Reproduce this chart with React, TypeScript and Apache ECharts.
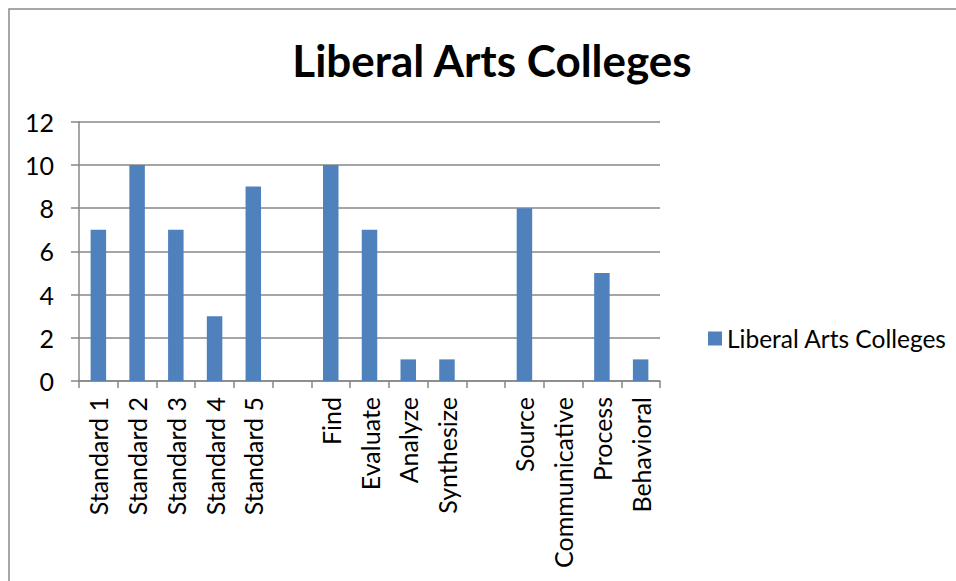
import React, { useEffect, useRef } from "react";
import * as echarts from "echarts";

const categories = [
  "Standard 1", "Standard 2", "Standard 3", "Standard 4", "Standard 5", "",
  "Find", "Evaluate", "Analyze", "Synthesize", " ",
  "Source", "Communicative", "Process", "Behavioral",
];
const values: (number | null)[] = [7, 10, 7, 3, 9, null, 10, 7, 1, 1, null, 8, null, 5, 1];
const seriesName = "Liberal Arts Colleges";
const title = "Liberal Arts Colleges";
const yTicks = { min: 0, max: 12, interval: 2 };

const FONT = "Lato";

export default function App() {
  const ref = useRef<HTMLDivElement>(null);
  useEffect(() => {
    if (!ref.current) return;
    const chart = echarts.init(ref.current, null, { renderer: "svg" });
    chart.setOption({
      animation: false,
      backgroundColor: "#ffffff",
      title: {
        text: title,
        left: 487,
        textAlign: "center",
        top: 33,
        textStyle: { fontFamily: FONT, fontSize: 44, fontWeight: "bold", color: "#000" },
      },
      legend: {
        data: [seriesName],
        left: 703,
        top: 321,
        icon: "rect",
        itemWidth: 14,
        itemHeight: 14,
        itemGap: 8,
        textStyle: { fontFamily: FONT, fontSize: 24.5, color: "#000" },
      },
      grid: { left: 79, right: 296, top: 121.7, bottom: 200, containLabel: false },
      xAxis: {
        type: "category",
        data: categories,
        axisLine: { lineStyle: { color: "#878787", width: 1.5 } },
        axisTick: { show: true, alignWithLabel: false, length: 7, lineStyle: { color: "#878787", width: 1.5 } },
        axisLabel: {
          rotate: 90,
          interval: 0,
          margin: 16,
          fontFamily: FONT,
          fontSize: 25,
          color: "#000",
        },
      },
      yAxis: {
        type: "value",
        min: yTicks.min,
        max: yTicks.max,
        interval: yTicks.interval,
        axisLine: { show: true, lineStyle: { color: "#878787", width: 1.5 } },
        axisTick: { show: true, length: 8, lineStyle: { color: "#878787", width: 1.5 } },
        splitLine: { show: true, lineStyle: { color: "#878787", width: 1.5 } },
        axisLabel: { margin: 25, fontFamily: FONT, fontSize: 25, color: "#000" },
      },
      series: [
        {
          name: seriesName,
          type: "bar",
          data: values,
          barWidth: "40%",
          itemStyle: { color: "#4F81BD" },
        },
      ],
      graphic: [
        {
          type: "rect",
          shape: { x: 9, y: 9, width: 1000, height: 1000 },
          style: { fill: "none", stroke: "#8a8a8a", lineWidth: 1.5 },
          silent: true,
        },
      ],
    });
    return () => chart.dispose();
  }, []);
  return (
    <div
      ref={ref}
      style={{ position: "fixed", left: 0, top: 0, width: 956, height: 581 }}
    />
  );
}
